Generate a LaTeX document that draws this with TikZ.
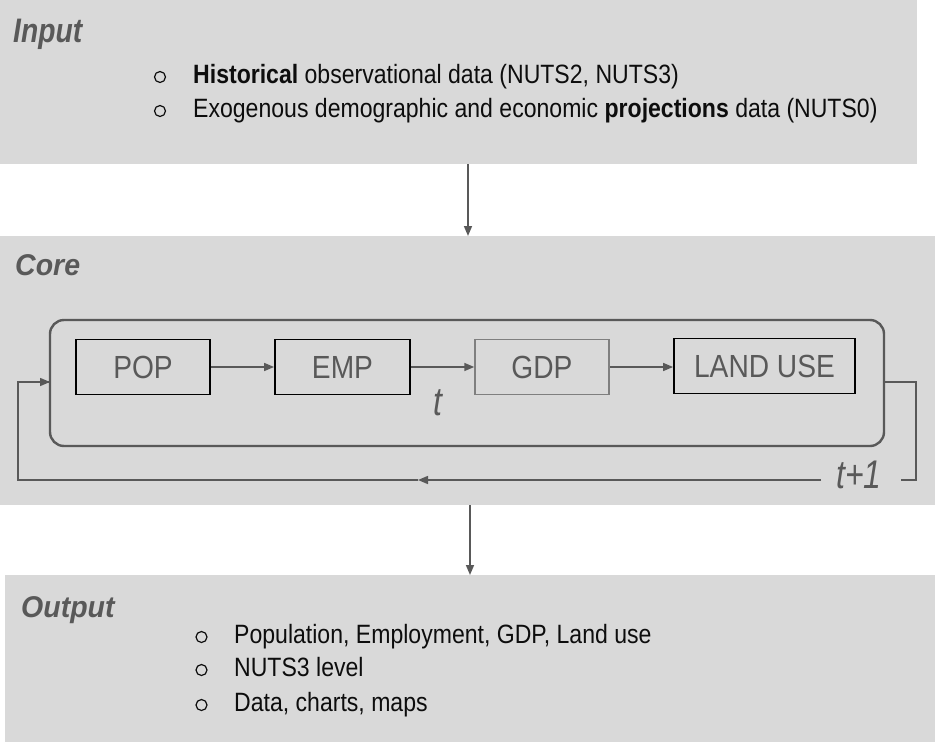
\documentclass[tikz,border=0pt]{standalone}
\usepackage{fontspec}
\setmainfont{Liberation Sans}[FakeStretch=0.87]
\newfontfamily\titlefont{Liberation Sans}[FakeStretch=0.95]
\newfontfamily\inputfont{Liberation Sans}[FakeStretch=0.83]
\newfontfamily\boxfont{Liberation Sans}[FakeStretch=0.88]
\newfontfamily\tfont{Liberation Sans}[FakeStretch=0.8]
\usetikzlibrary{arrows.meta}
\definecolor{panel}{HTML}{D9D9D9}
\definecolor{dgray}{HTML}{595959}
\definecolor{lgray}{HTML}{7F7F7F}
\definecolor{ink}{HTML}{0D0D0D}
\tikzset{
  titletext/.style={anchor=base west, inner sep=0pt, text=dgray, font=\titlefont\bfseries\itshape\fontsize{30}{34}\selectfont},
  bodytext/.style={anchor=base west, inner sep=0pt, text=ink, font=\fontsize{26.5}{30}\selectfont},
  bulletmark/.style={circle, draw=ink, line width=1.2pt, minimum size=11pt, inner sep=0pt},
  modbox/.style={draw=black, line width=1.8pt, minimum height=55pt, inner sep=0pt, text=dgray, font=\boxfont\fontsize{32}{36}\selectfont},
  ttext/.style={inner sep=0pt, text=dgray, font=\tfont\itshape\fontsize{40}{44}\selectfont},
  arr/.style={draw=dgray, line width=1.5pt, -{Triangle[length=10pt,width=8pt]}},
  conn/.style={draw=dgray, line width=1.5pt},
}
\begin{document}
\begin{tikzpicture}[x=1pt,y=-1pt]
\useasboundingbox (0,0) rectangle (935,742);
% panels
\fill[panel] (0,0) rectangle (917,164);
\fill[panel] (0,236) rectangle (935,505);
\fill[panel] (5,575) rectangle (935,742);
\node[inner sep=0pt, minimum width=917pt, minimum height=164pt] (inbox) at (458.5,82) {};
\node[inner sep=0pt, minimum width=935pt, minimum height=269pt] (corebox) at (467.5,370.5) {};
\node[inner sep=0pt, minimum width=930pt, minimum height=167pt] (outbox) at (470,658.5) {};
% titles
\node[titletext, font=\inputfont\bfseries\itshape\fontsize{34}{38}\selectfont] (tin) at (13,42) {Input};
\node[titletext] (tcore) at (15,275) {Core};
\node[titletext] (tout) at (21,617) {Output};
% input bullets
\node[bulletmark] (b1) at (160,77) {};
\node[bodytext] (l1) at (193,83) {\textbf{Historical} observational data (NUTS2, NUTS3)};
\node[bulletmark] (b2) at (160,111) {};
\node[bodytext] (l2) at (193,117) {Exogenous demographic and economic \textbf{projections} data (NUTS0)};
% output bullets
\node[bulletmark] (b3) at (201.5,637) {};
\node[bodytext] (o1) at (234,643) {Population, Employment, GDP, Land use};
\node[bulletmark] (b4) at (201.5,670) {};
\node[bodytext] (o2) at (234,676) {NUTS3 level};
\node[bulletmark] (b5) at (201.5,705) {};
\node[bodytext] (o3) at (234,711) {Data, charts, maps};
% arrows between panels
\draw[arr] (468,164) -- (468,236);
\draw[arr] (470,505) -- (470,575);
% loop frame
\node[draw=dgray, line width=2.4pt, rounded corners=14pt, minimum width=834pt, minimum height=126pt, inner sep=0pt] (loop) at (467,383) {};
% modules
\node[modbox, minimum width=134pt] (pop) at (143,367) {POP};
\node[modbox, minimum width=135pt] (emp) at (342.5,367) {EMP};
\node[modbox, minimum width=134pt, draw=lgray, line width=1.5pt] (gdp) at (542,367) {GDP};
\node[modbox, minimum width=181pt] (land) at (764.5,366) {LAND USE};
\draw[arr] (pop) -- (emp);
\draw[arr] (emp) -- (gdp);
\draw[arr] (gdp) -- (land.west |- gdp.east);
\node[ttext, anchor=base] (tl) at (438,415) {t};
% feedback loop
\coordinate (fa) at (884,382);
\coordinate (fb) at (916,382);
\coordinate (fc) at (916,480);
\coordinate (fd) at (901,480);
\coordinate (fe) at (821,480);
\coordinate (fm) at (418,480);
\coordinate (ff) at (18,480);
\coordinate (fg) at (18,382);
\coordinate (fh) at (50,382);
\node[ttext, anchor=base] (tp) at (859,488) {t+1};
\draw[conn] (fa) -- (fb) -- (fc) -- (fd);
\draw[arr] (fe) -- (fm);
\draw[conn] (fm) -- (ff) -- (fg) -- (fh);
\draw[arr] (fg) -- (fh);
\end{tikzpicture}
\end{document}
